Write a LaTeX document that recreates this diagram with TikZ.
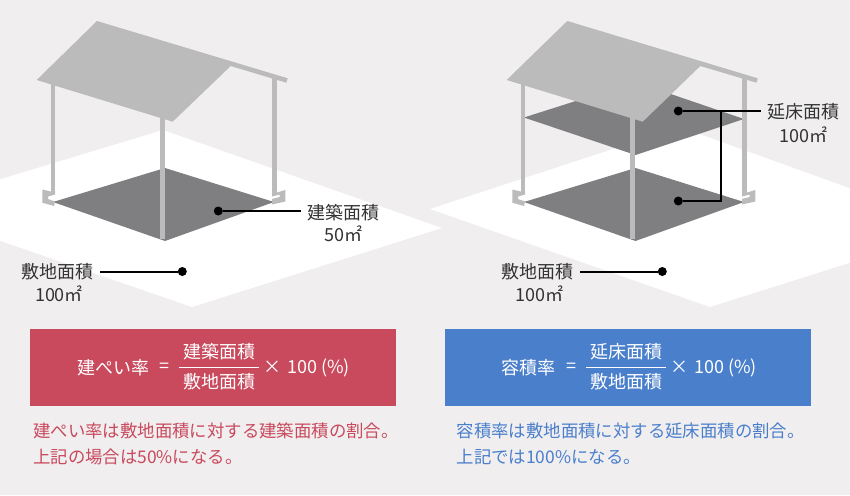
\documentclass[tikz,border=0pt]{standalone}
\usepackage{fontspec}
\setmainfont{Noto Sans CJK JP}
\definecolor{bgc}{HTML}{F0EEEF}
\definecolor{roofc}{HTML}{BBBBBC}
\definecolor{floorc}{HTML}{7F7F81}
\definecolor{inkc}{HTML}{333333}
\definecolor{redc}{HTML}{C9495D}
\definecolor{bluec}{HTML}{4A7FCC}
\newcommand{\fs}[1]{\fontsize{#1}{#1}\selectfont}
\newcommand{\footings}{%
  \fill[roofp] (42.3,189.5) -- (50.7,191.5) -- (55,191.5) -- (55,194.5) -- (48,196.5) -- (48,199) -- (55,201.5) -- (54,206) -- (42.3,202.7) -- cycle;
  \fill[roofp] (285.3,190) -- (277,192.5) -- (272,192.5) -- (272,196.5) -- (279.7,194.5) -- (279.7,197) -- (272,199) -- (272,204.5) -- (285.3,201.5) -- cycle;
}
\tikzset{
  lot/.style={fill=white,draw=none},
  floorp/.style={fill=floorc,draw=none},
  roofp/.style={fill=roofc,draw=none},
  postl/.style={draw=roofc,line width=4.4pt},
  dotn/.style={circle,fill=black,inner sep=0pt,minimum size=9pt},
  lead/.style={draw=black,line width=2pt},
  lab/.style={inner sep=0pt,text=inkc,font=\fs{18}},
  boxn/.style={inner sep=0pt,minimum width=366pt,minimum height=77pt},
  white18/.style={inner sep=0pt,text=white,font=\fs{18}},
  fracl/.style={draw=white,line width=1pt},
  note/.style={inner sep=0pt,anchor=west,font=\fs{17.4}}
}
\begin{document}
\begin{tikzpicture}[x=1pt,y=-1pt]
\useasboundingbox (0,0) rectangle (850,495);
\fill[bgc] (0,0) rectangle (850,495);
% lots
\fill[lot] (-95,208) -- (163,130) -- (442,228) -- (192,307) -- cycle;
\fill[lot] (430,209) -- (680,127) -- (960,228) -- (710,307) -- cycle;
% left building
\fill[floorp] (53,202) -- (165,168) -- (274,202) -- (165,241) -- cycle;
\footings
\draw[postl] (52.7,82) -- (52.7,192);
\draw[postl] (274.5,78) -- (274.5,193);
\draw[postl] (162.5,115) -- (162.5,239);
\fill[roofp] (97,21) -- (287.7,78.3) -- (286.3,82.7) -- (230.7,66) -- (172.7,121.7) -- (36.7,80) -- cycle;
% right building
\fill[floorp] (524,202) -- (635.5,168) -- (744,202) -- (635.5,241) -- cycle;
\fill[floorp] (524,117.5) -- (635.5,82) -- (744,119) -- (635.5,155) -- cycle;
\begin{scope}[xshift=470pt]
\footings
\end{scope}
\draw[postl] (522.7,82) -- (522.7,192);
\draw[postl] (744.5,78) -- (744.5,193);
\draw[postl] (632.5,115) -- (632.5,239);
\fill[roofp] (567.3,21) -- (757.7,78.3) -- (756.5,82.7) -- (700.3,66) -- (642.7,121.7) -- (506.7,80) -- cycle;
% leaders left
\node[dotn] (d1) at (218.3,211) {};
\coordinate (e1) at (301,211);
\draw[lead] (d1) -- (e1);
\node[lab] (l1) at (343.5,212.5) {建築面積};
\node[lab] (v1) at (343.5,234) {50㎡};
\node[dotn] (d2) at (182.3,271.5) {};
\coordinate (e2) at (100,271.5);
\draw[lead] (e2) -- (d2);
\node[lab] (l2) at (57.5,271.5) {敷地面積};
\node[lab] (v2) at (59,293.5) {100㎡};
% leaders right
\node[dotn] (d3) at (662.3,271.5) {};
\coordinate (e3) at (580,271.5);
\draw[lead] (e3) -- (d3);
\node[lab] (l3) at (537.5,271.5) {敷地面積};
\node[lab] (v3) at (539.5,293.5) {100㎡};
\node[dotn] (d4) at (678.3,111) {};
\node[dotn] (d5) at (678.3,201) {};
\coordinate (e4) at (761,111);
\coordinate (j4) at (721,111);
\draw[lead] (d4) -- (e4);
\draw[lead] (d5) -| (j4);
\node[lab] (l4) at (803.5,112) {延床面積};
\node[lab] (v4) at (803.5,134.5) {100㎡};
% red box
\node[boxn,fill=redc] (rb) at (213,367.5) {};
\node[white18,anchor=west] (r1) at (77,367.5) {建ぺい率};
\node[white18] (r2) at (164,367.5) {=};
\node[white18] (r3) at (219,352) {建築面積};
\node[white18] (r4) at (219,382) {敷地面積};
\coordinate (r5) at (179,367.5);
\coordinate (r6) at (259,367.5);
\draw[fracl] (r5) -- (r6);
\node[white18] (r7) at (272,367.5) {×};
\node[white18,anchor=west] (r8) at (287,367.5) {100 (\%)};
\node[note,text=redc] (r9) at (33,430.7) {建ぺい率は敷地面積に対する建築面積の割合。};
\node[note,text=redc] (r10) at (33,456.7) {上記の場合は50\%になる。};
% blue box
\node[boxn,fill=bluec] (bb) at (628,367.5) {};
\node[white18,anchor=west] (b1) at (501,367.5) {容積率};
\node[white18] (b2) at (571,367.5) {=};
\node[white18] (b3) at (626,352) {延床面積};
\node[white18] (b4) at (626,382) {敷地面積};
\coordinate (b5) at (586,367.5);
\coordinate (b6) at (666,367.5);
\draw[fracl] (b5) -- (b6);
\node[white18] (b7) at (679,367.5) {×};
\node[white18,anchor=west] (b8) at (694,367.5) {100 (\%)};
\node[note,text=bluec] (b9) at (456.5,430.7) {容積率は敷地面積に対する延床面積の割合。};
\node[note,text=bluec] (b10) at (456.5,456.7) {上記では100\%になる。};
\end{tikzpicture}
\end{document}
